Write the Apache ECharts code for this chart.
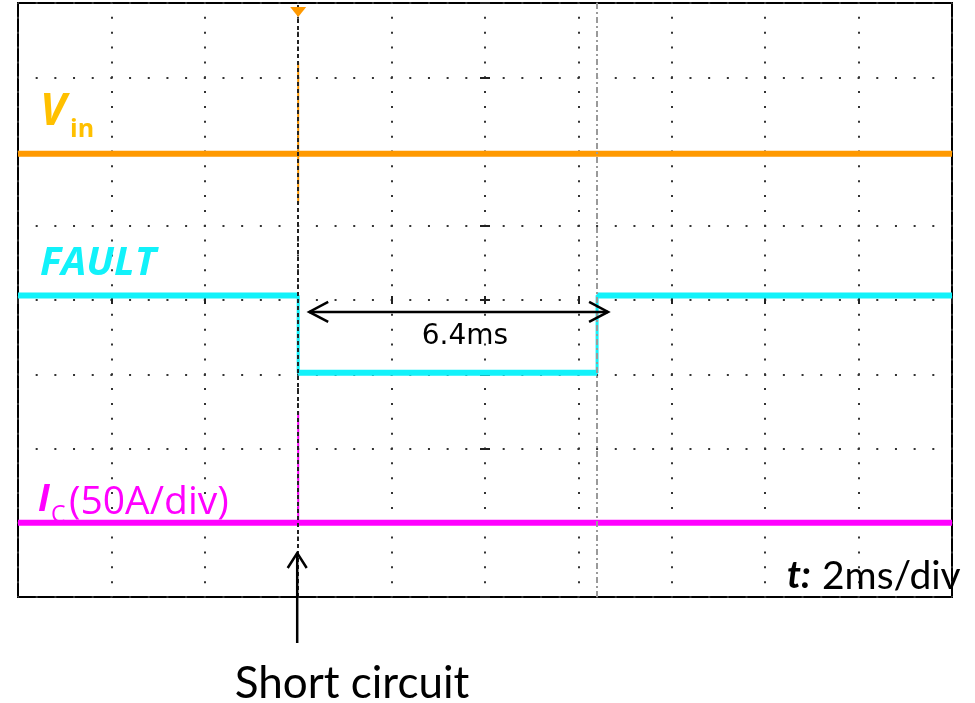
<!DOCTYPE html>
<html><head><meta charset="utf-8">
<script src="https://cdn.jsdelivr.net/npm/echarts@6/dist/echarts.min.js"></script>
<style>html,body{margin:0;padding:0;background:#fff}#c{width:975px;height:703px}</style>
</head><body><div id="c"></div>
<script>
// Time in ms (2 ms/div), amplitude in screen divisions (8 divisions tall)
const xRange = [0, 20];
const xStep = 2;
const yRange = [-4, 4];
const yStep = 1;
const vinTime = [0, 20];
const vinLevel = [1.97, 1.97];
const vinSpikeTime = [6, 6];
const vinSpikeLevel = [3.2, 1.3];
const faultTime = [0, 6, 6, 12.4, 12.4, 20];
const faultLevel = [0.06, 0.06, -0.98, -0.98, 0.06, 0.06];
const icTime = [0, 20];
const icLevel = [-3, -3];
const icSpikeTime = [6, 6];
const icSpikeLevel = [-1.5, -3];
const triggerTime = 6;
const cursorTime = 12.4;
const faultDuration = 6.4;
const arrowLevel = -0.16;

const zip = (xs, ys) => xs.map((x, i) => [x, ys[i]]);
// horizontal (level) parts of a step trace, broken between segments
function levelParts(xs, ys) {
  const out = [];
  for (let i = 0; i < xs.length - 1; i++) {
    if (ys[i] === ys[i + 1] && xs[i] !== xs[i + 1]) {
      out.push([xs[i], ys[i]], [xs[i + 1], ys[i + 1]], [xs[i + 1], '-']);
    }
  }
  return out;
}

const chart = echarts.init(document.getElementById('c'), null, {renderer: 'canvas'});

const hidden = {show: false};
function centerX(inside) {
  return {
    type: 'value', min: -10, max: 10, interval: 2, gridIndex: 0,
    axisLine: {show: true, onZero: true, onZeroAxisIndex: 0, lineStyle: {color: 'rgba(0,0,0,0)'}},
    axisTick: {show: true, inside: inside, length: 4, lineStyle: {color: '#222', width: 2}},
    axisLabel: hidden, splitLine: hidden
  };
}
function centerY(inside) {
  return {
    type: 'value', min: yRange[0], max: yRange[1], interval: yStep, gridIndex: 0,
    axisLine: {show: true, onZero: true, onZeroAxisIndex: 1, lineStyle: {color: 'rgba(0,0,0,0)'}},
    axisTick: {show: true, inside: inside, length: 5, lineStyle: {color: '#222', width: 2}},
    axisLabel: hidden, splitLine: hidden
  };
}

const ORANGE = '#FF9900', CYAN = '#12F2FA', MAGENTA = '#FF00FF';

const option = {
  animation: false,
  backgroundColor: '#ffffff',
  grid: {left: 18, right: 23, top: 3, bottom: 106, show: true, borderColor: '#000', borderWidth: 2,
         backgroundColor: '#fff', containLabel: false, outerBoundsMode: 'none'},
  xAxis: [
    {type: 'value', min: xRange[0], max: xRange[1], interval: xStep,
     axisLine: {show: false, onZero: false}, axisTick: hidden, axisLabel: hidden,
     splitLine: {show: true, lineStyle: {color: '#333', width: 2, type: [2, 12.85], dashOffset: 1}}},
    centerX(false),
    centerX(true)
  ],
  yAxis: [
    {type: 'value', min: yRange[0], max: yRange[1], interval: yStep,
     axisLine: {show: false, onZero: false}, axisTick: hidden, axisLabel: hidden,
     splitLine: {show: true, lineStyle: {color: '#333', width: 2, type: [2, 16.68], dashOffset: 1}}},
    centerY(false),
    centerY(true)
  ],
  series: [
    {name: 'Vin', type: 'line', data: zip(vinTime, vinLevel), showSymbol: false, z: 2,
     lineStyle: {color: ORANGE, width: 6}},
    {name: 'Vin spike', type: 'line', data: zip(vinSpikeTime, vinSpikeLevel), showSymbol: false, z: 2,
     lineStyle: {color: ORANGE, width: 2}},
    {name: 'FAULT edges', type: 'line', data: zip(faultTime, faultLevel), showSymbol: false, z: 2,
     lineStyle: {color: CYAN, width: 3}},
    {name: 'FAULT', type: 'line', data: levelParts(faultTime, faultLevel), showSymbol: false, z: 2,
     connectNulls: false, lineStyle: {color: CYAN, width: 6}},
    {name: 'Ic', type: 'line', data: zip(icTime, icLevel), showSymbol: false, z: 2,
     lineStyle: {color: MAGENTA, width: 6}},
    {name: 'Ic spike', type: 'line', data: zip(icSpikeTime, icSpikeLevel), showSymbol: false, z: 2,
     lineStyle: {color: MAGENTA, width: 2}},
    {name: 'cursors', type: 'line', data: [[triggerTime, yRange[1]]], showSymbol: false, z: 5,
     lineStyle: {width: 0},
     markLine: {silent: true, symbol: ['none', 'none'], label: {show: false},
       data: [
         {xAxis: triggerTime, lineStyle: {color: '#222', width: 2, type: [4, 3]}},
         {xAxis: cursorTime, lineStyle: {color: '#9a9a9a', width: 2, type: [6, 3, 2, 3]}}
       ]},
     markPoint: {silent: true, label: {show: false},
       data: [{coord: [triggerTime, yRange[1]], symbol: 'triangle', symbolRotate: 180,
               symbolSize: [16, 10], symbolOffset: [0, 9], itemStyle: {color: ORANGE}}]}
    }
  ]
};
chart.setOption(option);

const px = (x, y) => chart.convertToPixel({gridIndex: 0}, [x, y]);
const a0 = px(triggerTime, arrowLevel);
const a1 = px(triggerTime + faultDuration, arrowLevel);
const L = a0[0] + 11, R = a1[0] + 11, Y = a0[1];
const trigX = px(triggerTime, 0)[0] - 1;
const botY = px(triggerTime, yRange[0])[1];
const stroke = {stroke: '#000', lineWidth: 2.5, fill: null};
const txt = (text, x, y, font, fill, align) => ({type: 'text', z: 100,
  style: {text, x, y, font, fill, align: align || 'left', verticalAlign: 'middle'}});

chart.setOption({graphic: [
  {type: 'polyline', z: 100, shape: {points: [[L, Y], [R, Y]]}, style: stroke},
  {type: 'polyline', z: 100, shape: {points: [[L + 19, Y - 10], [L, Y], [L + 19, Y + 10]]}, style: stroke},
  {type: 'polyline', z: 100, shape: {points: [[R - 19, Y - 10], [R, Y], [R - 19, Y + 10]]}, style: stroke},
  {type: 'polyline', z: 100, shape: {points: [[trigX, botY - 44], [trigX, botY + 46]]}, style: stroke},
  {type: 'polyline', z: 100, shape: {points: [[trigX - 9.5, botY - 29], [trigX, botY - 44], [trigX + 9.5, botY - 29]]}, style: stroke},
  txt('6.4ms', 465, 337, '28px "DejaVu Sans"', '#000', 'center'),
  txt('Short circuit', 352, 684, '44px Lato', '#000', 'center'),
  txt('t:', 787, 576, 'italic bold 38px Lato', '#000'),
  txt('2ms/div', 822, 576, '39px Lato', '#000'),
  txt('V', 40, 112, 'italic bold 44px "Open Sans"', '#FFC000'),
  txt('in', 70, 130, 'bold 25px "Open Sans"', '#FFC000'),
  txt('FAULT', 40, 264, 'italic bold 40px "Open Sans"', CYAN),
  txt('I', 38, 500, 'italic bold 37px "Open Sans"', MAGENTA),
  txt('C', 51, 515, '23px "Open Sans"', MAGENTA),
  txt('(50A/div)', 69, 503, '39px "Open Sans"', MAGENTA)
]});
</script></body></html>
